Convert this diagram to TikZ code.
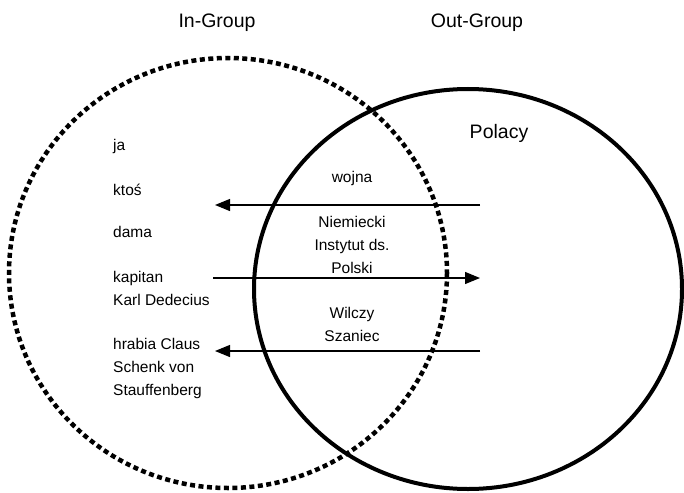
\documentclass[tikz,border=0pt]{standalone}
\usepackage{fontspec}
\setmainfont{Liberation Sans}
\usepackage{tikz}
\usetikzlibrary{arrows.meta}

\begin{document}
\begin{tikzpicture}[
            x=1pt, y=-1pt,
            ingroup/.style={draw, line width=4.5pt, dash pattern=on 5pt off 3.5pt},
            outgroup/.style={draw, line width=4pt},
            title/.style={font=\fontsize{19.5}{23}\selectfont},
            entry/.style={anchor=west, inner sep=0pt, align=left, font=\fontsize{15.5}{23}\selectfont},
            middle/.style={inner sep=0pt, align=center, font=\fontsize{15.5}{23}\selectfont},
            flow/.style={-{Triangle[length=15pt, width=12pt]}, line width=1.2pt}
        ]
            \useasboundingbox (0,0) rectangle (684,492);

            % Kola
            \draw[ingroup] (228,273) ellipse [x radius=219, y radius=215];
            \draw[outgroup] (468,289) ellipse [x radius=214, y radius=200];

            % Naglowki
            \node[title] (in) at (217,23) {In-Group};
            \node[title] (out) at (477,23) {Out-Group};
            \node[title] (polacy) at (499,133) {Polacy};

            % Lista po lewej
            \node[entry] (ja) at (113,146) {ja};
            \node[entry] (ktos) at (113,190) {ktoś};
            \node[entry] (dama) at (113,232) {dama};
            \node[entry] (kapitan) at (113,288) {kapitan\\Karl Dedecius};
            \node[entry] (hrabia) at (113,368) {hrabia Claus\\Schenk von\\Stauffenberg};

            % Teksty w srodku
            \node[middle] (wojna) at (352,178) {wojna};
            \node[middle] (instytut) at (352,245) {Niemiecki\\Instytut ds.\\Polski};
            \node[middle] (szaniec) at (352,324) {Wilczy\\Szaniec};

            % Strzalki
            \coordinate (a1) at (480,205);
            \coordinate (b1) at (215,205);
            \coordinate (a2) at (213,278);
            \coordinate (b2) at (480,278);
            \coordinate (a3) at (480,351);
            \coordinate (b3) at (215,351);
            \draw[flow] (a1) -- (b1);
            \draw[flow] (a2) -- (b2);
            \draw[flow] (a3) -- (b3);

        \end{tikzpicture}
\end{document}
